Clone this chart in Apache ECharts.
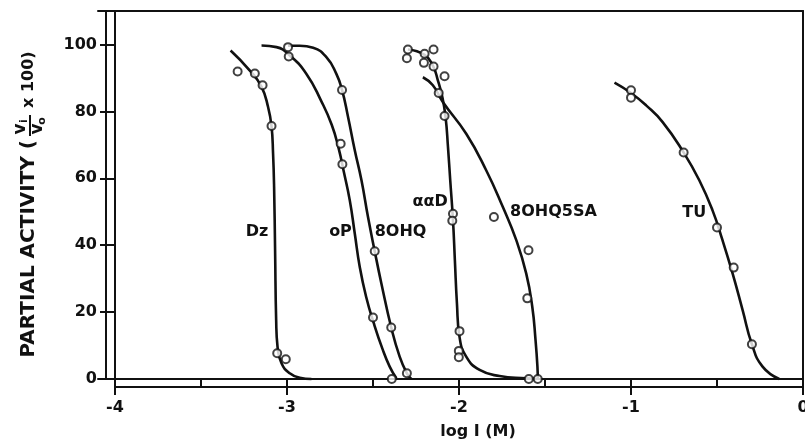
<!DOCTYPE html>
<html>
<head>
<meta charset="utf-8">
<script src="https://cdn.jsdelivr.net/npm/echarts@6/dist/echarts.min.js"></script>
<style>
html,body{margin:0;padding:0;background:#fff;}
#chart{width:805px;height:440px;}
</style>
</head>
<body>
<div id="chart"></div>
<script>
// ---- Data (x = log I (M), y = partial activity) ----
const xTicks = ['-4', '-3', '-2', '-1', '0'];
const yTicks = [0, 20, 40, 60, 80, 100];

// Dz
const dzPtX = [-3.287, -3.187, -3.142, -3.090, -3.057, -3.007];
const dzPtY = [91.9, 91.3, 87.8, 75.6, 7.7, 5.9];
const dzCurveX = [-3.328, -3.216, -3.148, -3.110, -3.090, -3.081, -3.075, -3.069, -3.063, -3.055, -3.032, -2.984, -2.926, -2.858];
const dzCurveY = [98.2, 92.2, 87.3, 81.3, 75.6, 67.4, 57.4, 37.5, 17.6, 9.6, 4.7, 1.7, 0.4, 0];

// oP
const opPtX = [-2.990, -2.688, -2.678, -2.500, -2.391];
const opPtY = [96.4, 70.3, 64.2, 18.4, 0];
const opCurveX = [-3.148, -3.061, -2.984, -2.887, -2.800, -2.740, -2.700, -2.670, -2.635, -2.606, -2.577, -2.540, -2.495, -2.445, -2.403, -2.364];
const opCurveY = [99.7, 99.2, 96.7, 91.2, 83.0, 76.0, 69.0, 62.0, 53.4, 43.5, 33.5, 24.6, 16.6, 9.0, 3.7, 0.2];

// 8OHQ
const hqPtX = [-2.994, -2.680, -2.490, -2.394, -2.303];
const hqPtY = [99.2, 86.4, 38.2, 15.4, 1.7];
const hqCurveX = [-2.994, -2.926, -2.848, -2.771, -2.713, -2.680, -2.645, -2.606, -2.567, -2.529, -2.490, -2.451, -2.394, -2.345, -2.303, -2.277];
const hqCurveY = [99.6, 99.6, 99.0, 96.2, 91.2, 86.4, 78.3, 68.4, 59.4, 48.4, 38.2, 28.5, 15.4, 6.7, 1.7, 0];

// aaD
const aadPtX = [-2.297, -2.303, -2.200, -2.148, -2.204, -2.148, -2.084, -2.035, -2.039, -1.997, -2.001, -2.001, -1.594];
const aadPtY = [98.5, 95.9, 97.2, 98.5, 94.5, 93.4, 78.6, 49.4, 47.3, 14.3, 8.4, 6.5, 0];
const aadCurveX = [-2.297, -2.200, -2.152, -2.123, -2.097, -2.078, -2.064, -2.051, -2.035, -2.024, -2.012, -1.997, -1.958, -1.880, -1.764, -1.609, -1.551];
const aadCurveY = [98.5, 96.9, 93.7, 89.3, 84.3, 78.3, 69.3, 59.4, 47.5, 35.5, 22.6, 12.6, 6.7, 2.7, 0.9, 0.2, 0];

// 8OHQ5SA
const saPtX = [-2.084, -2.118, -1.797, -1.596, -1.603, -1.542];
const saPtY = [90.5, 85.5, 48.4, 38.5, 24.1, 0];
const saCurveX = [-2.210, -2.152, -2.094, -1.958, -1.842, -1.745, -1.667, -1.609, -1.574, -1.555, -1.544, -1.542];
const saCurveY = [90.2, 87.8, 82.8, 73.3, 62.4, 51.4, 41.5, 31.5, 21.6, 11.6, 3.7, 0];

// TU
const tuPtX = [-1.000, -1.000, -0.694, -0.500, -0.403, -0.297];
const tuPtY = [86.3, 84.1, 67.7, 45.3, 33.3, 10.4];
const tuCurveX = [-1.096, -1.000, -0.912, -0.816, -0.694, -0.603, -0.526, -0.468, -0.409, -0.351, -0.297, -0.235, -0.138];
const tuCurveY = [88.6, 85.5, 81.8, 76.8, 67.7, 59.4, 50.4, 41.5, 31.5, 20.6, 10.4, 3.7, 0];

// Curve labels
const labelText = ['Dz', 'oP', '8OHQ', '\u03b1\u03b1D', '8OHQ5SA', 'TU'];
const labelX = [-3.174, -2.689, -2.340, -2.168, -1.451, -0.632];
const labelY = [44.0, 44.0, 44.0, 52.9, 49.9, 49.6];

// ---- Chart ----
const INK = '#111';
const FONT = '"DejaVu Sans", sans-serif';
const zip = (xs, ys) => xs.map((x, i) => [x, ys[i]]);

const curves = [
  [dzCurveX, dzCurveY], [opCurveX, opCurveY], [hqCurveX, hqCurveY],
  [aadCurveX, aadCurveY], [saCurveX, saCurveY], [tuCurveX, tuCurveY]
];
const points = [
  [dzPtX, dzPtY], [opPtX, opPtY], [hqPtX, hqPtY],
  [aadPtX, aadPtY], [saPtX, saPtY], [tuPtX, tuPtY]
];

const series = [];
curves.forEach(([xs, ys]) => {
  series.push({
    type: 'line', xAxisIndex: 0, yAxisIndex: 0,
    data: zip(xs, ys), smooth: 0.5, showSymbol: false, symbol: 'none',
    lineStyle: { color: INK, width: 2.6 }, clip: false, z: 3, silent: true
  });
});
points.forEach(([xs, ys]) => {
  series.push({
    type: 'scatter', xAxisIndex: 0, yAxisIndex: 0,
    data: zip(xs, ys), symbol: 'circle', symbolSize: 8,
    itemStyle: { color: '#fff', borderColor: INK, borderWidth: 2 },
    clip: false, z: 5, silent: true
  });
});

const chart = echarts.init(document.getElementById('chart'), null, { renderer: 'canvas' });
const hidden = { show: false };
chart.setOption({
  animation: false,
  backgroundColor: '#fff',
  grid: [
    { left: 115, right: 2, top: 11, bottom: 61, containLabel: false, outerBoundsMode: 'none' },
    { left: 98, right: 2, top: 11, bottom: 61, containLabel: false, outerBoundsMode: 'none' }
  ],
  xAxis: [
    {
      type: 'value', gridIndex: 0, min: -4, max: 0, interval: 1, position: 'bottom',
      axisLine: { show: true, onZero: false, lineStyle: { color: INK, width: 2 } },
      axisTick: { show: true, length: 16, lineStyle: { color: INK, width: 2 } },
      axisLabel: { margin: 21, color: INK, fontFamily: FONT, fontWeight: 'bold', fontSize: 16,
        formatter: v => xTicks[Math.round(v + 4)] },
      splitLine: hidden,
      name: 'log I (M)', nameLocation: 'middle', nameGap: 45,
      nameTextStyle: { color: INK, fontFamily: FONT, fontWeight: 'bold', fontSize: 16, padding: [0, 0, 0, 38] }
    },
    {
      type: 'value', gridIndex: 0, min: -4, max: 0, interval: 0.5, position: 'bottom', offset: 8,
      axisLine: { show: true, onZero: false, lineStyle: { color: INK, width: 2 } },
      axisTick: { show: true, inside: true, length: 8, lineStyle: { color: INK, width: 2 } },
      axisLabel: hidden, splitLine: hidden
    },
    {
      type: 'value', gridIndex: 1, min: -4, max: 0, position: 'top',
      axisLine: { show: true, onZero: false, lineStyle: { color: INK, width: 2 } },
      axisTick: hidden, axisLabel: hidden, splitLine: hidden
    },
    {
      type: 'value', gridIndex: 1, min: -4, max: 0, position: 'bottom',
      axisLine: { show: true, onZero: false, lineStyle: { color: INK, width: 2 } },
      axisTick: hidden, axisLabel: hidden, splitLine: hidden
    }
  ],
  yAxis: [
    {
      type: 'value', gridIndex: 0, min: 0, max: 110, interval: 20, position: 'left',
      axisLine: { show: true, onZero: false, lineStyle: { color: INK, width: 2 } },
      axisTick: { show: true, length: 15, lineStyle: { color: INK, width: 2 } },
      axisLabel: { margin: 18, color: INK, fontFamily: FONT, fontWeight: 'bold', fontSize: 16,
        showMaxLabel: false,
        formatter: v => (yTicks.indexOf(v) >= 0 ? String(v) : '') },
      splitLine: hidden
    },
    {
      type: 'value', gridIndex: 1, min: 0, max: 110, position: 'left', offset: -8,
      axisLine: { show: true, onZero: false, lineStyle: { color: INK, width: 2 } },
      axisTick: hidden, axisLabel: hidden, splitLine: hidden
    },
    {
      type: 'value', gridIndex: 1, min: 0, max: 110, position: 'right',
      axisLine: { show: true, onZero: false, lineStyle: { color: INK, width: 2 } },
      axisTick: hidden, axisLabel: hidden, splitLine: hidden
    }
  ],
  series: series
});

// Curve labels and y-axis title
const TF = 'bold 16px "DejaVu Sans", sans-serif';
const graphics = labelText.map((t, i) => {
  const p = chart.convertToPixel({ xAxisIndex: 0, yAxisIndex: 0 }, [labelX[i], labelY[i]]);
  return { type: 'text', x: p[0], y: p[1], z: 10,
    style: { text: t, align: 'center', verticalAlign: 'middle', font: TF, fill: INK } };
});
const TT = 'bold 20px "DejaVu Sans", sans-serif';
const TV = 'bold 17px "DejaVu Sans", sans-serif';
const TX = 'bold 16px "DejaVu Sans", sans-serif';
const TS = 'bold 11px "DejaVu Sans", sans-serif';
graphics.push({
  type: 'group', x: 29, y: 200, rotation: Math.PI / 2, z: 10,
  children: [
    { type: 'text', x: 60, y: 0, style: { text: 'PARTIAL ACTIVITY (', align: 'right', verticalAlign: 'middle', font: TT, fill: INK } },
    { type: 'text', x: 71, y: -8, style: { text: 'v', align: 'center', verticalAlign: 'middle', font: TV, fill: INK } },
    { type: 'text', x: 79, y: -5, style: { text: 'i', align: 'center', verticalAlign: 'middle', font: TS, fill: INK } },
    { type: 'line', shape: { x1: 64, y1: 1, x2: 85, y2: 1 }, style: { stroke: INK, lineWidth: 2 } },
    { type: 'text', x: 71, y: 9, style: { text: 'v', align: 'center', verticalAlign: 'middle', font: TV, fill: INK } },
    { type: 'text', x: 79, y: 13, style: { text: 'o', align: 'center', verticalAlign: 'middle', font: TS, fill: INK } },
    { type: 'text', x: 92, y: 0, style: { text: 'x 100)', align: 'left', verticalAlign: 'middle', font: TX, fill: INK } }
  ]
});
chart.setOption({ graphic: graphics });
</script>
</body>
</html>
